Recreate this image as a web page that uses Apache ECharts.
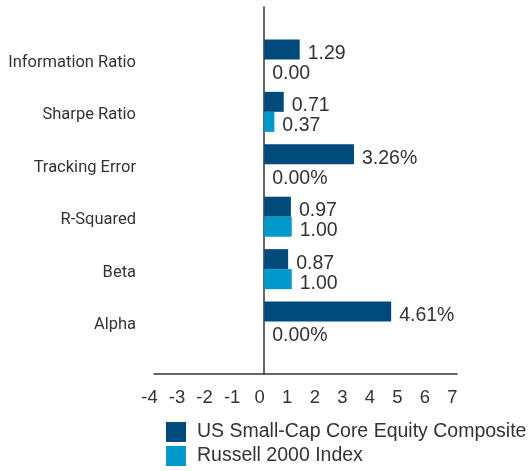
<!DOCTYPE html>
<html>
<head>
<meta charset="utf-8">
<script src="https://cdn.jsdelivr.net/npm/echarts@6/dist/echarts.min.js"></script>
<style>html,body{margin:0;padding:0;background:#fff}#c{width:529px;height:471px}</style>
</head>
<body>
<div id="c"></div>
<script>
var categories = ['Information Ratio', 'Sharpe Ratio', 'Tracking Error', 'R-Squared', 'Beta', 'Alpha'];
var percentCats = ['Tracking Error', 'Alpha'];
var composite = [1.29, 0.71, 3.26, 0.97, 0.87, 4.61];
var russell = [0.00, 0.37, 0.00, 1.00, 1.00, 0.00];
var seriesNames = ['US Small-Cap Core Equity Composite', 'Russell 2000 Index'];
var xMin = -4, xMax = 7, xInterval = 1;

var padCats = [''].concat(categories).concat(['']);
function pad(arr) { return [null].concat(arr).concat([null]); }
var txt = '#333333';
var valueFont = 'Liberation Sans, Arial, sans-serif';
function fmt(p) {
  var s = p.value.toFixed(2);
  if (percentCats.indexOf(p.name) >= 0) s += '%';
  return s;
}
var chart = echarts.init(document.getElementById('c'), null, {renderer: 'canvas'});
chart.setOption({
  animation: false,
  grid: {left: 154, right: 72, top: 7, bottom: 97, containLabel: false, outerBoundsMode: 'none'},
  xAxis: {
    type: 'value', min: xMin, max: xMax, interval: xInterval,
    axisLine: {show: true, lineStyle: {color: '#333', width: 1.5}},
    axisTick: {show: false},
    splitLine: {show: false},
    axisLabel: {color: txt, fontSize: 18.5, fontFamily: valueFont, margin: 14, padding: [0, 9, 0, 0]}
  },
  yAxis: {
    type: 'category', data: padCats, inverse: true, boundaryGap: false,
    axisLine: {show: true, onZero: true, lineStyle: {color: '#333', width: 1.5}},
    axisTick: {show: false},
    splitLine: {show: false},
    axisLabel: {color: txt, fontSize: 16.5, fontFamily: 'Roboto, Liberation Sans, sans-serif', margin: 18, verticalAlign: 'top', lineHeight: 7}
  },
  legend: {
    orient: 'vertical', left: 161, top: 417, height: 80, itemWidth: 20, itemHeight: 20, itemGap: 4,
    icon: 'rect',
    textStyle: {color: txt, fontSize: 19.5, fontFamily: valueFont, padding: [0, 0, 0, 6]},
    data: seriesNames
  },
  series: [
    {
      name: seriesNames[0], type: 'bar', data: pad(composite), barWidth: 20, barGap: '0%',
      itemStyle: {color: '#004B7B'},
      label: {show: true, position: 'right', distance: 8, offset: [0, 4], color: txt, fontSize: 19.5, fontFamily: valueFont, formatter: fmt}
    },
    {
      name: seriesNames[1], type: 'bar', data: pad(russell), barWidth: 20, barGap: '0%',
      itemStyle: {color: '#0099CC'},
      label: {show: true, position: 'right', distance: 8, offset: [0, 4], color: txt, fontSize: 19.5, fontFamily: valueFont, formatter: fmt}
    }
  ]
});
</script>
</body>
</html>
